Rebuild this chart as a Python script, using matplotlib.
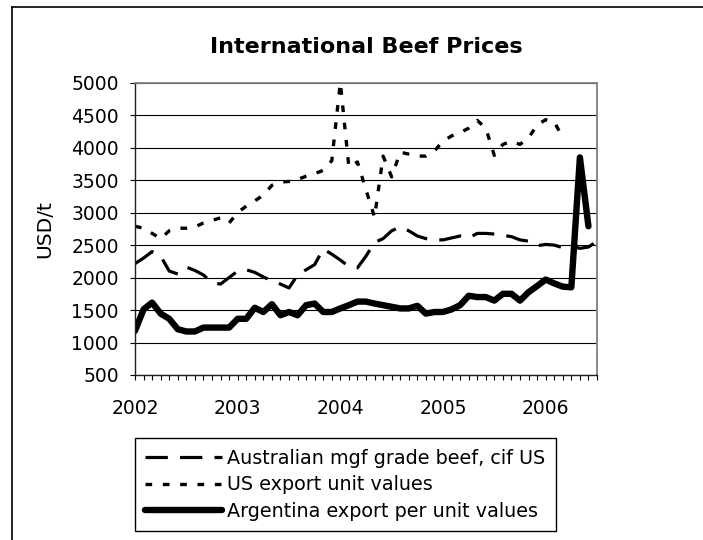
"""International beef prices, monthly 2002 to mid 2006."""

import matplotlib as mpl
import numpy as np
from matplotlib import pyplot as plt
from matplotlib.lines import Line2D

mpl.use("Agg")

YEARS = ["2002", "2003", "2004", "2005", "2006"]
YEAR_START_MONTH = [0, 12, 24, 36, 48]

# monthly values, USD/t, starting January 2002
AUSTRALIAN = [
    2215, 2300, 2400, 2330, 2100, 2055, 2160, 2110, 2040, 1920,
    1900, 2000, 2100, 2120, 2080, 2010, 1950, 1900, 1840, 2040,
    2120, 2200, 2440, 2360, 2270, 2170, 2150, 2330, 2540, 2600,
    2720, 2780, 2720, 2640, 2600, 2580, 2580, 2610, 2640, 2610,
    2680, 2680, 2670, 2650, 2630, 2580, 2560, 2490, 2510, 2500,
    2460, 2480, 2450, 2470, 2560,
]
US_EXPORT = [
    2790, 2760, 2680, 2600, 2720, 2760, 2760, 2780, 2840, 2880,
    2920, 2840, 3000, 3100, 3180, 3270, 3420, 3470, 3480, 3510,
    3560, 3600, 3650, 3800, 5000, 3700, 3780, 3350, 2930, 3870,
    3550, 3930, 3900, 3870, 3870, 3950, 4100, 4180, 4230, 4300,
    4420, 4300, 3880, 4050, 4100, 4050, 4150, 4350, 4430, 4400,
    4150,
]
ARGENTINA = [
    1180, 1510, 1615, 1445, 1365, 1205, 1170, 1170, 1230, 1230,
    1230, 1230, 1365, 1365, 1535, 1470, 1590, 1420, 1470, 1420,
    1575, 1600, 1470, 1470, 1525, 1575, 1630, 1630, 1600, 1575,
    1550, 1525, 1525, 1565, 1445, 1470, 1470, 1510, 1575, 1720,
    1700, 1700, 1645, 1750, 1750, 1645, 1775, 1870, 1970, 1910,
    1860, 1850, 3850, 2790,
]
LABELS = [
    "Australian mgf grade beef, cif US",
    "US export unit values",
    "Argentina export per unit values",
]

W, H = 703, 540
FS = 13.5


def main():
    plt.rcParams["font.family"] = ["DejaVu Sans"]
    fig = plt.figure(figsize=(W / 100, H / 100), dpi=100)
    ax = fig.add_axes([135 / W, 1 - 375 / H, 462 / W, (375 - 82.7) / H])

    (l_aus,) = ax.plot(
        np.arange(len(AUSTRALIAN)), AUSTRALIAN, c="k", lw=2.3,
        dashes=(7.0, 3.8), dash_capstyle="butt",
    )
    (l_us,) = ax.plot(
        np.arange(len(US_EXPORT)), US_EXPORT, c="k", lw=2.4,
        dashes=(2.0, 3.2), dash_capstyle="butt",
    )
    (l_arg,) = ax.plot(
        np.arange(len(ARGENTINA)), ARGENTINA, c="k", lw=4.6,
        solid_joinstyle="round", solid_capstyle="round",
    )

    ax.set_xlim(0, 54)
    ax.set_ylim(500, 5000)
    ax.set_yticks(np.arange(500, 5001, 500))
    ax.yaxis.grid(True, color="k", lw=0.8)
    ax.set_axisbelow(True)
    ax.set_xticks(YEAR_START_MONTH, YEARS)
    ax.set_xticks(np.arange(0, 55), minor=True)
    ax.tick_params(axis="x", which="both", length=3.6, width=0.8, pad=14,
                   labelsize=FS, direction="out")
    ax.tick_params(axis="y", length=3.6, width=0.8, pad=8, labelsize=FS)
    for side in ("top", "right"):
        ax.spines[side].set_color("#808080")
        ax.spines[side].set_linewidth(1.3)
    for side in ("left", "bottom"):
        ax.spines[side].set_color("#202020")
        ax.spines[side].set_linewidth(1.0)
    ax.set_ylabel("USD/t", fontsize=14.5, labelpad=12)

    fig.text(0.5 * (135 + 597) / W, 1 - 47 / H, "International Beef Prices",
             ha="center", va="center", fontsize=16, fontweight="bold")

    leg = fig.legend(
        [l_aus, l_us, l_arg], LABELS,
        loc="upper left", bbox_to_anchor=(134.5 / W, 1 - 438 / H),
        fontsize=13.8, handlelength=4.0, handletextpad=0.3,
        labelspacing=0.4, borderpad=0.55, borderaxespad=0,
        fancybox=False, framealpha=1, edgecolor="k",
    )
    leg.get_frame().set_linewidth(1.0)

    # outer frame of the chart
    fig.add_artist(Line2D([11.7 / W, 11.7 / W], [0, 1 - 7 / H],
                          transform=fig.transFigure, c="k", lw=1.2))
    fig.add_artist(Line2D([11.7 / W, 1], [1 - 7 / H, 1 - 7 / H],
                          transform=fig.transFigure, c="k", lw=1.2))

    fig.savefig("out.png", dpi=100)
    plt.close("all")


if __name__ == "__main__":
    main()
